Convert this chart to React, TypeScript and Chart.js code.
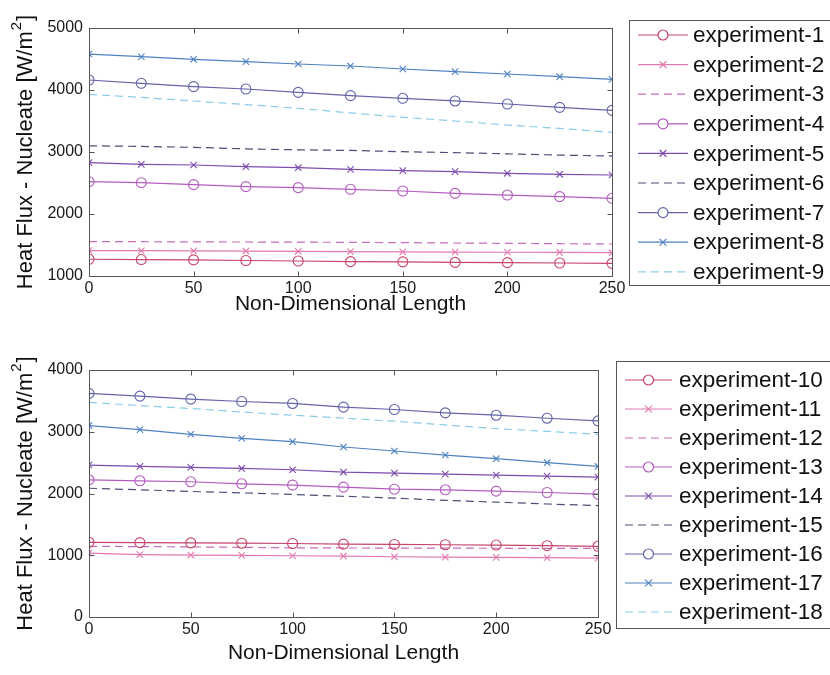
import React, { useEffect, useRef } from "react";
import { Chart, registerables } from "chart.js";

Chart.register(...registerables);

// ---------- data ----------
const lengths = [0, 25, 50, 75, 100, 125, 150, 175, 200, 225, 250];

const topNames = [
  "experiment-1", "experiment-2", "experiment-3", "experiment-4", "experiment-5",
  "experiment-6", "experiment-7", "experiment-8", "experiment-9",
];
const exp1 = [1270, 1265, 1260, 1250, 1242, 1232, 1228, 1220, 1215, 1210, 1204];
const exp2 = [1410, 1408, 1405, 1402, 1398, 1394, 1390, 1386, 1383, 1380, 1376];
const exp3 = [1555, 1553, 1550, 1548, 1546, 1543, 1538, 1532, 1527, 1521, 1516];
const exp4 = [2521, 2505, 2473, 2441, 2425, 2398, 2371, 2333, 2306, 2280, 2253];
const exp5 = [2828, 2801, 2790, 2763, 2747, 2720, 2699, 2683, 2656, 2640, 2629];
const exp6 = [3100, 3090, 3075, 3050, 3035, 3025, 3005, 2990, 2970, 2950, 2935];
const exp7 = [4161, 4108, 4054, 4016, 3962, 3909, 3866, 3823, 3774, 3720, 3672];
const exp8 = [4580, 4537, 4495, 4457, 4419, 4387, 4339, 4296, 4258, 4215, 4172];
const exp9 = [3930, 3880, 3823, 3765, 3705, 3630, 3560, 3500, 3435, 3380, 3317];

const bottomNames = [
  "experiment-10", "experiment-11", "experiment-12", "experiment-13", "experiment-14",
  "experiment-15", "experiment-16", "experiment-17", "experiment-18",
];
const exp10 = [1210, 1205, 1200, 1195, 1190, 1180, 1175, 1170, 1165, 1155, 1145];
const exp11 = [1035, 1010, 1003, 998, 992, 985, 976, 970, 965, 960, 954];
const exp12 = [1145, 1140, 1135, 1128, 1120, 1118, 1116, 1115, 1113, 1112, 1111];
const exp13 = [2222, 2206, 2190, 2157, 2135, 2103, 2070, 2060, 2038, 2016, 1989];
const exp14 = [2461, 2439, 2423, 2406, 2385, 2347, 2331, 2314, 2298, 2282, 2266];
const exp15 = [2085, 2060, 2033, 2010, 1985, 1955, 1925, 1890, 1860, 1830, 1805];
const exp16 = [3621, 3577, 3528, 3490, 3458, 3398, 3360, 3306, 3268, 3219, 3176];
const exp17 = [3100, 3035, 2959, 2894, 2840, 2753, 2688, 2623, 2564, 2499, 2439];
const exp18 = [3475, 3425, 3377, 3320, 3268, 3220, 3171, 3110, 3051, 3005, 2959];

const topSeries = [exp1, exp2, exp3, exp4, exp5, exp6, exp7, exp8, exp9];
const bottomSeries = [exp10, exp11, exp12, exp13, exp14, exp15, exp16, exp17, exp18];

const xTickValues = [0, 50, 100, 150, 200, 250];
const topYTicks = [1000, 2000, 3000, 4000, 5000];
const bottomYTicks = [0, 1000, 2000, 3000, 4000];

const xTitle = "Non-Dimensional Length";
const yTitleMain = "Heat Flux - Nucleate [W/m";
const yTitleSup = "2";
const yTitleEnd = "]";

// styles per series slot (same sequence in both panels)
const colors = [
  "#c8446a", "#e27ab0", "#c86cbc", "#b45cc0", "#7e4cae",
  "#4e4e78", "#6464a8", "#4f82c2", "#8ccbe8",
];
const markers = ["circle", "crossRot", "none", "circle", "crossRot", "none", "circle", "crossRot", "none"];

const FONT = '"Liberation Sans", Arial, Helvetica, sans-serif';

type Geo = {
  height: number;
  padTop: number;
  right: number;
  xAxisH: number;
  xTitlePad: number;
  legend: { left: number; top: number; height: number; row0: number; gap: number; x1: number; x2: number; tx: number };
};

const framePlugin = {
  id: "frame",
  afterDraw(chart: any, _args: any, opts: any) {
    const { ctx, chartArea: a, scales } = chart;
    const xs = scales.x;
    const ys = scales.y;
    ctx.save();
    ctx.strokeStyle = "#555";
    ctx.lineWidth = 1;
    const L = Math.round(a.left) + 0.5;
    const R = Math.round(a.right) + 0.5;
    const T = Math.round(a.top) + 0.5;
    const B = Math.round(a.bottom) + 0.5;
    ctx.strokeRect(L, T, R - L, B - T);
    ctx.beginPath();
    for (const t of xs.ticks) {
      const px = Math.round(xs.getPixelForValue(t.value)) + 0.5;
      ctx.moveTo(px, B); ctx.lineTo(px, B - 5);
      ctx.moveTo(px, T); ctx.lineTo(px, T + 5);
    }
    for (const t of ys.ticks) {
      const py = Math.round(ys.getPixelForValue(t.value)) + 0.5;
      ctx.moveTo(L, py); ctx.lineTo(L + 5, py);
      ctx.moveTo(R, py); ctx.lineTo(R - 5, py);
    }
    ctx.stroke();

    // y title with superscript
    ctx.fillStyle = "#111";
    const cy = (a.top + a.bottom) / 2;
    ctx.translate(opts.yTitleX, cy);
    ctx.rotate(-Math.PI / 2);
    ctx.font = `22px ${FONT}`;
    const w1 = ctx.measureText(yTitleMain).width;
    ctx.font = `15px ${FONT}`;
    const w2 = ctx.measureText(yTitleSup).width;
    ctx.font = `22px ${FONT}`;
    const w3 = ctx.measureText(yTitleEnd).width;
    const total = w1 + w2 + w3 + 2;
    let x = -total / 2;
    ctx.textBaseline = "middle";
    ctx.textAlign = "left";
    ctx.fillText(yTitleMain, x, 0);
    x += w1 + 1;
    ctx.font = `15px ${FONT}`;
    ctx.fillText(yTitleSup, x, -9);
    x += w2 + 1;
    ctx.font = `22px ${FONT}`;
    ctx.fillText(yTitleEnd, x, 0);
    ctx.restore();

    // legend
    const lg = opts.legend;
    ctx.save();
    ctx.strokeStyle = "#555";
    ctx.lineWidth = 1;
    ctx.fillStyle = "#fff";
    ctx.fillRect(lg.left + 0.5, lg.top + 0.5, 400, lg.height);
    ctx.strokeRect(lg.left + 0.5, lg.top + 0.5, 400, lg.height);
    chart.data.datasets.forEach((ds: any, i: number) => {
      const y = lg.top + lg.row0 + i * lg.gap;
      ctx.strokeStyle = ds.borderColor;
      ctx.lineWidth = 1.2;
      ctx.setLineDash(ds.borderDash || []);
      ctx.beginPath();
      ctx.moveTo(lg.x1, y);
      ctx.lineTo(lg.x2, y);
      ctx.stroke();
      ctx.setLineDash([]);
      const mx = (lg.x1 + lg.x2) / 2;
      if (ds.pointStyle === "circle" && ds.pointRadius > 0) {
        ctx.fillStyle = "#fff";
        ctx.beginPath();
        ctx.arc(mx, y, ds.pointRadius, 0, Math.PI * 2);
        ctx.fill();
        ctx.stroke();
      } else if (ds.pointStyle === "crossRot" && ds.pointRadius > 0) {
        const r = ds.pointRadius * 0.75;
        ctx.beginPath();
        ctx.moveTo(mx - r, y - r); ctx.lineTo(mx + r, y + r);
        ctx.moveTo(mx - r, y + r); ctx.lineTo(mx + r, y - r);
        ctx.stroke();
      }
      ctx.fillStyle = "#111";
      ctx.font = `22.5px ${FONT}`;
      ctx.textBaseline = "middle";
      ctx.textAlign = "left";
      ctx.fillText(ds.label, lg.tx, y + 1);
    });
    ctx.restore();
  },
};

function Panel({ names, series, yMin, yMax, yTicks, geo, top }: any) {
  const ref = useRef<HTMLCanvasElement | null>(null);
  useEffect(() => {
    if (!ref.current) return;
    const g: Geo = geo;
    const datasets = series.map((vals: number[], i: number) => {
      const m = markers[i];
      return {
        label: names[i],
        data: lengths.map((x, j) => ({ x, y: vals[j] })),
        borderColor: colors[i],
        backgroundColor: colors[i],
        borderWidth: 1.2,
        borderDash: m === "none" ? [8, 5] : [],
        pointStyle: m === "none" ? "circle" : m,
        pointRadius: m === "none" ? 0 : m === "circle" ? 5 : 4.5,
        pointBorderWidth: 1.1,
        pointBorderColor: colors[i],
        pointBackgroundColor: "rgba(0,0,0,0)",
        tension: 0,
      };
    });
    const tickFont = { family: FONT, size: 16 };
    const chart = new Chart(ref.current, {
      type: "line",
      data: { datasets },
      plugins: [framePlugin],
      options: {
        animation: false,
        responsive: false,
        maintainAspectRatio: false,
        layout: { padding: { top: g.padTop, right: 830 - g.right, left: 0, bottom: 0 } },
        plugins: {
          legend: { display: false },
          tooltip: { enabled: false },
          frame: { legend: g.legend, yTitleX: 26 },
        } as any,
        scales: {
          x: {
            type: "linear",
            min: 0,
            max: 250,
            afterBuildTicks: (s: any) => { s.ticks = xTickValues.map((v) => ({ value: v })); },
            ticks: {
              font: tickFont, color: "#1a1a1a", padding: 3, maxRotation: 0, autoSkip: false,
              callback: (v: any) => String(v),
            },
            grid: { display: false, drawTicks: false },
            border: { display: false },
            title: {
              display: true,
              text: xTitle,
              color: "#111",
              font: { family: FONT, size: 21 },
              padding: { top: 0, bottom: g.xTitlePad },
            },
            afterFit: (s: any) => { s.height = g.xAxisH; },
          },
          y: {
            type: "linear",
            min: yMin,
            max: yMax,
            afterBuildTicks: (s: any) => { s.ticks = yTicks.map((v: number) => ({ value: v })); },
            ticks: {
              font: tickFont, color: "#1a1a1a", padding: 6, autoSkip: false,
              callback: (v: any) => String(v),
            },
            grid: { display: false, drawTicks: false },
            border: { display: false },
            afterFit: (s: any) => { s.width = 89; },
          },
        },
      } as any,
    });
    return () => chart.destroy();
  }, []);
  return (
    <canvas
      ref={ref}
      width={830}
      height={geo.height}
      style={{ position: "absolute", left: 0, top, width: 830, height: geo.height, display: "block" }}
    />
  );
}

const topGeo: Geo = {
  height: 337,
  padTop: 28,
  right: 612,
  xAxisH: 61,
  xTitlePad: 20,
  legend: { left: 629, top: 20, height: 265, row0: 15, gap: 29.6, x1: 638, x2: 688, tx: 693 },
};

const bottomGeo: Geo = {
  height: 338,
  padTop: 33,
  right: 598,
  xAxisH: 58,
  xTitlePad: 9,
  legend: { left: 616, top: 24, height: 267, row0: 19, gap: 29, x1: 625, x2: 672, tx: 679 },
};

export default function App() {
  return (
    <div style={{ position: "absolute", left: 0, top: 0, width: 830, height: 675, background: "#fff", overflow: "hidden" }}>
      <Panel names={topNames} series={topSeries} yMin={1000} yMax={5000} yTicks={topYTicks} geo={topGeo} top={0} />
      <Panel names={bottomNames} series={bottomSeries} yMin={0} yMax={4000} yTicks={bottomYTicks} geo={bottomGeo} top={337} />
    </div>
  );
}
